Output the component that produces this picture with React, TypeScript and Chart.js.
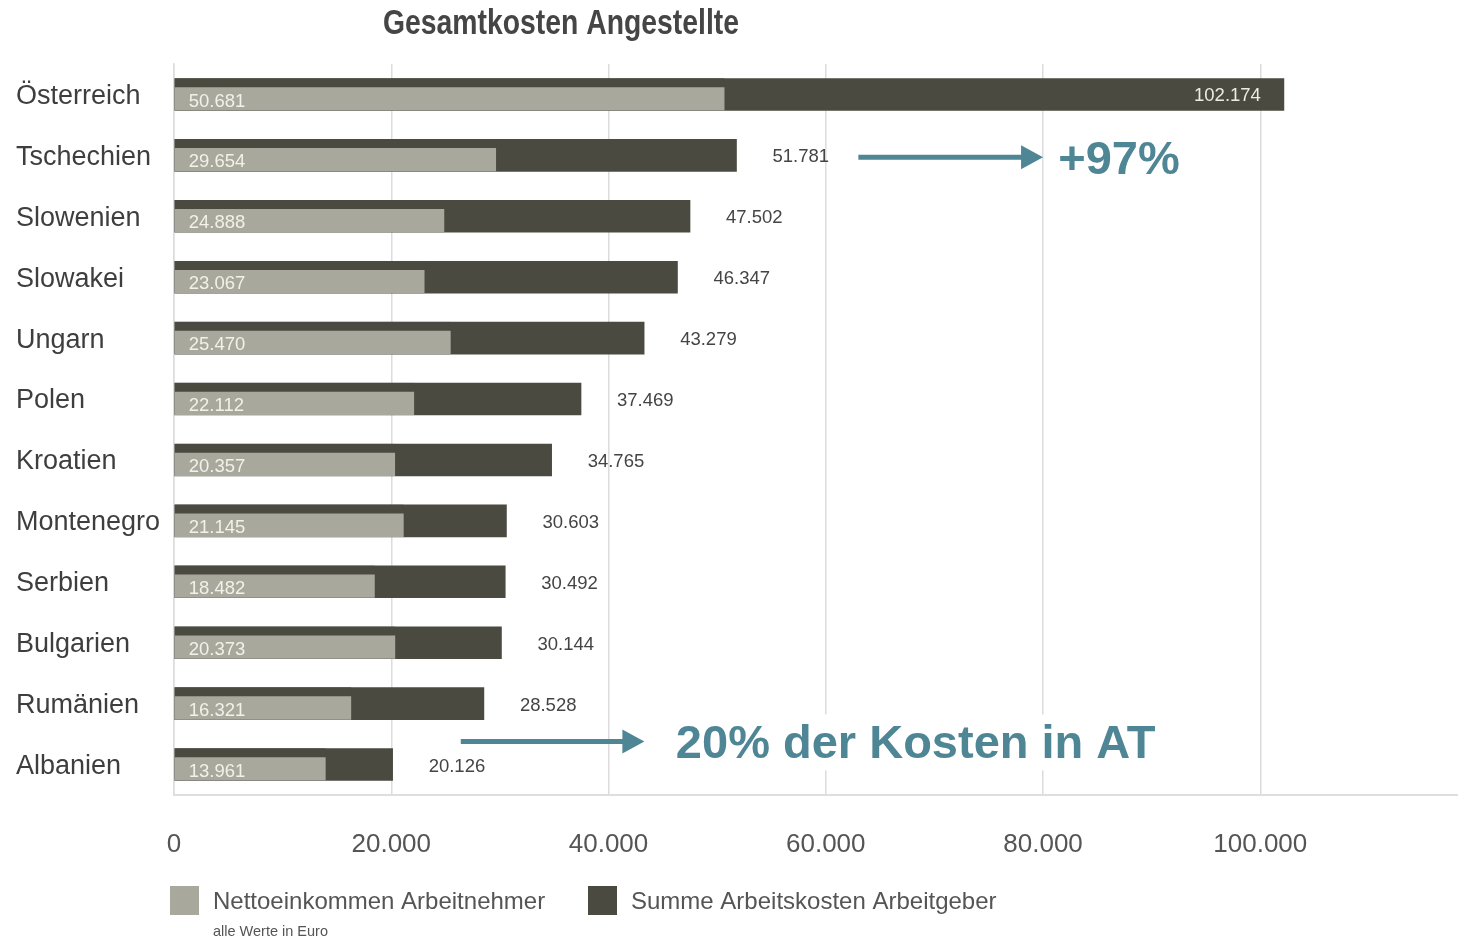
import React, { useEffect, useRef } from "react";
import { Chart, registerables } from "chart.js";

Chart.register(...registerables);

const categories = [
  "Österreich", "Tschechien", "Slowenien", "Slowakei", "Ungarn", "Polen",
  "Kroatien", "Montenegro", "Serbien", "Bulgarien", "Rumänien", "Albanien",
];
const nettoValues = [50681, 29654, 24888, 23067, 25470, 22112, 20357, 21145, 18482, 20373, 16321, 13961];
const totalValues = [102174, 51781, 47502, 46347, 43279, 37469, 34765, 30603, 30492, 30144, 28528, 20126];
const xTickValues = [0, 20000, 40000, 60000, 80000, 100000];
const seriesLabels = ["Nettoeinkommen Arbeitnehmer", "Summe Arbeitskosten Arbeitgeber"];
const titleText = "Gesamtkosten Angestellte";
const noteText = "alle Werte in Euro";
// annotations: arrow from/to in data units, row as (fractional) category index
const annotations = [
  { text: "+97%", fromValue: 63000, toValue: 80000, row: 1.03, textValue: 81400 },
  { text: "20% der Kosten in AT", fromValue: 26400, toValue: 43300, row: 10.62, textValue: 46200 },
];

const DARK = "#4a4a41";
const LIGHT = "#a9a89d";
const TEAL = "#4f8696";
const FONT = "'Liberation Sans', Arial, sans-serif";

const fmt = (v: number) => v.toLocaleString("de-DE");

const overlayPlugin = {
  id: "overlay",
  afterDatasetsDraw(chart: any) {
    const ctx = chart.ctx;
    const x = chart.scales.x;
    const lightMeta = chart.getDatasetMeta(0);
    const darkMeta = chart.getDatasetMeta(1);
    ctx.save();
    ctx.font = `18.5px ${FONT}`;
    ctx.textBaseline = "middle";
    lightMeta.data.forEach((el: any, i: number) => {
      ctx.fillStyle = "#f2f1ea";
      ctx.textAlign = "left";
      ctx.fillText(fmt(nettoValues[i]), el.base + 14, el.y + 7);
    });
    const limit = x.getPixelForValue(100000);
    darkMeta.data.forEach((el: any, i: number) => {
      const t = fmt(totalValues[i]);
      if (el.x > limit) {
        ctx.fillStyle = "#ecebe4";
        ctx.textAlign = "right";
        ctx.fillText(t, el.x - 23, el.y + 1);
      } else {
        ctx.fillStyle = "#444";
        ctx.textAlign = "left";
        ctx.fillText(t, el.x + 36, el.y + 2);
      }
    });
    ctx.restore();
  },
  afterDraw(chart: any) {
    const ctx = chart.ctx;
    const x = chart.scales.x;
    const y = chart.scales.y;
    ctx.save();
    // annotations
    annotations.forEach((a) => {
      const yy = y.getPixelForValue(a.row);
      const x0 = x.getPixelForValue(a.fromValue);
      const x1 = x.getPixelForValue(a.toValue);
      const tx = x.getPixelForValue(a.textValue);
      ctx.font = `bold 47px ${FONT}`;
      const w = ctx.measureText(a.text).width;
      ctx.fillStyle = "#ffffff";
      ctx.fillRect(x1 + 2, yy - 27, tx - x1 + w + 12, 56);
      ctx.strokeStyle = TEAL;
      ctx.lineWidth = 5;
      ctx.beginPath();
      ctx.moveTo(x0, yy);
      ctx.lineTo(x1 - 18, yy);
      ctx.stroke();
      ctx.fillStyle = TEAL;
      ctx.beginPath();
      ctx.moveTo(x1 - 22, yy - 12);
      ctx.lineTo(x1, yy);
      ctx.lineTo(x1 - 22, yy + 12);
      ctx.closePath();
      ctx.fill();
      ctx.textAlign = "left";
      ctx.textBaseline = "middle";
      ctx.fillText(a.text, tx, yy + 4);
    });
    // title (condensed by horizontal scaling)
    ctx.save();
    ctx.fillStyle = "#454545";
    ctx.textAlign = "center";
    ctx.textBaseline = "middle";
    ctx.font = `bold 35px ${FONT}`;
    const tw = ctx.measureText(titleText).width;
    const sx = 356 / tw;
    ctx.translate(561, 24);
    ctx.scale(sx, 1);
    ctx.fillText(titleText, 0, 0);
    ctx.restore();
    // legend
    const colors = [LIGHT, DARK];
    const legendX = [170, 588];
    ctx.font = `24px ${FONT}`;
    ctx.textAlign = "left";
    ctx.textBaseline = "middle";
    seriesLabels.forEach((lab, i) => {
      ctx.fillStyle = colors[i];
      ctx.fillRect(legendX[i], 886, 29, 29);
      ctx.fillStyle = "#555";
      ctx.fillText(lab, legendX[i] + 43, 902);
    });
    ctx.font = `14.5px ${FONT}`;
    ctx.fillText(noteText, 213, 932);
    ctx.restore();
  },
};

export default function App() {
  const ref = useRef<HTMLCanvasElement | null>(null);
  useEffect(() => {
    if (!ref.current) return;
    const chart = new Chart(ref.current, {
      type: "bar",
      data: {
        labels: categories,
        datasets: [
          {
            label: seriesLabels[0],
            data: nettoValues,
            backgroundColor: LIGHT,
            borderColor: DARK,
            borderWidth: { top: 9, right: 0, bottom: 0, left: 0 },
            borderSkipped: false,
            barThickness: 32,
            grouped: false,
          },
          {
            label: seriesLabels[1],
            data: totalValues,
            backgroundColor: DARK,
            borderWidth: 0,
            barThickness: 32,
            grouped: false,
          },
        ],
      } as any,
      options: {
        indexAxis: "y",
        animation: false,
        responsive: true,
        maintainAspectRatio: false,
        layout: { padding: { top: 64, left: 16, right: 0, bottom: 0 } },
        plugins: {
          legend: { display: false },
          tooltip: { enabled: false },
          title: { display: false },
        },
        scales: {
          x: {
            min: 0,
            max: 118200,
            afterBuildTicks: (s: any) => {
              s.ticks = xTickValues.map((v) => ({ value: v }));
            },
            afterFit: (s: any) => {
              s.height = 144;
            },
            ticks: {
              padding: 34,
              color: "#555",
              font: { family: FONT, size: 26 },
              callback: (v: any) => fmt(Number(v)),
            },
            grid: { color: "#dcdcdc", lineWidth: 1.5, drawTicks: false },
            border: { display: true, color: "#dedede", width: 2 },
          },
          y: {
            afterFit: (s: any) => {
              s.width = 158;
            },
            ticks: {
              crossAlign: "far",
              padding: 0,
              labelOffset: 2,
              color: "#3e3e3e",
              font: { family: FONT, size: 27 },
            },
            grid: { display: false, drawTicks: false },
            border: { display: true, color: "#dcdcdc", width: 1.5 },
          },
        },
      } as any,
      plugins: [overlayPlugin],
    });
    return () => chart.destroy();
  }, []);
  return (
    <div style={{ position: "absolute", left: 0, top: 0, width: 1458, height: 939, background: "#fff" }}>
      <canvas ref={ref} />
    </div>
  );
}
